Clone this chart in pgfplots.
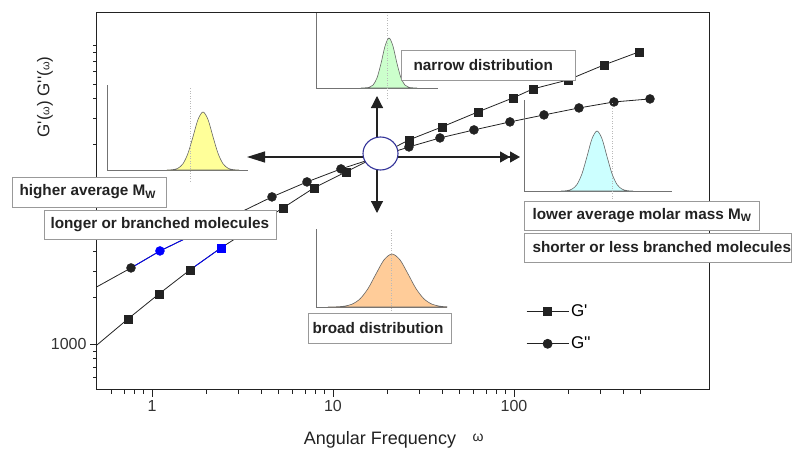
\documentclass[border=0pt]{standalone}
\usepackage{fontspec}
\setmainfont{Liberation Sans}
\usepackage{pgfplots}
\pgfplotsset{compat=1.18}
\usetikzlibrary{arrows.meta}

\definecolor{gyel}{HTML}{FFFF99}
\definecolor{ggrn}{HTML}{CCFFCC}
\definecolor{gcyn}{HTML}{CCFFFF}
\definecolor{gorg}{HTML}{FFCC99}
\definecolor{ringblue}{HTML}{333399}
\definecolor{ink}{HTML}{222222}
\newcommand\q{\textquotesingle}
\newcommand\boxfont{\fontsize{15.3}{18}\selectfont\bfseries}
\newcommand\smallw{{\fontsize{11}{11}\selectfont ω}}

\pgfplotsset{
  inset/.style={scale only axis, anchor=south west, axis lines*=left,
    axis line style={black!55, line width=0.8pt}, xtick=\empty, ytick=\empty,
    clip=false, xmin=0, ymin=0},
  gauss/.style={draw=black!60, line width=0.6pt, smooth, fill=#1},
  mid/.style={gray!55, dotted, line width=0.5pt},
}

\begin{document}
\begin{tikzpicture}
\path[use as bounding box] (-97pt,-61pt) rectangle (696pt,390pt);

\begin{axis}[at={(0pt,0pt)}, anchor=south west, scale only axis,
  width=612pt, height=377pt,
  xmode=log, ymode=log,
  xmin=0.497, xmax=1195, ymin=500, ymax=145500,
  axis line style={ink, line width=1pt},
  tick align=outside, tick pos=left,
  major tick length=7pt, minor tick length=4pt,
  every tick/.style={ink, line width=0.8pt},
  xtick={1,10,100}, xticklabels={1,10,100},
  minor xtick={0.6,0.7,0.8,0.9,2,3,4,5,6,7,8,9,20,30,40,50,60,70,80,90,200,300,400,500},
  ytick={1000,10000}, yticklabels={1000,{}},
  minor ytick={600,700,800,900,2000,3000,4000,5000,6000,7000,8000,9000,20000,30000,40000,50000,60000,70000,80000,90000},
  ticklabel style={font=\fontsize{16}{18}\selectfont, text=black!80},
  /pgf/number format/assume math mode=true,
  legend image code/.code={\draw[mark repeat=2,mark phase=2,#1] plot coordinates {(0pt,0pt) (21pt,0pt) (42pt,0pt)};},
  legend style={draw=none, fill=none, at={(axis description cs:0.701,0.232)}, anchor=north west,
    inner sep=0pt, font=\fontsize{17}{20}\selectfont, row sep=15pt},
  legend cell align=left,
]
% G' line and G'' line
\addplot[ink, line width=0.8pt, forget plot] coordinates {
(0.335,666) (0.737,1457) (1.093,2123) (1.622,3046) (2.405,4242) (3.568,5732)
(5.293,7743) (7.852,10462) (11.80,13312) (17.73,16930) (26.29,21544) (40.02,26200)
(63.25,32840) (98.74,40530) (127.3,46416) (198.8,53140) (314.3,66610) (490.3,81000)};
\addplot[ink, line width=0.8pt, forget plot] coordinates {
(0.335,1826) (0.766,3139) (1.107,4053) (1.773,5314) (2.874,6967) (4.603,9139)
(7.184,11450) (11.07,13925) (17.06,16430) (26.29,19390) (39.0,22200) (60.1,25040)
(95.0,28250) (146.5,31380) (228.6,34860) (356.8,38160) (564.1,39930)};
% blue segments
\addplot[blue, line width=0.8pt, forget plot] coordinates {(1.622,3046) (2.405,4242)};
\addplot[blue, line width=0.8pt, forget plot] coordinates {(0.766,3139) (1.107,4053) (1.773,5314)};
% marks
\addplot[only marks, mark=square*, mark size=4.2pt, ink, forget plot] coordinates {
(0.737,1457) (1.093,2123) (1.622,3046) (3.568,5732)
(5.293,7743) (7.852,10462) (11.80,13312) (17.73,16930) (26.29,21544) (40.02,26200)
(63.25,32840) (98.74,40530) (127.3,46416) (198.8,53140) (314.3,66610) (490.3,81000)};
\addplot[only marks, mark=*, mark size=4.5pt, ink, forget plot] coordinates {
(0.766,3139) (1.773,5314) (2.874,6967) (4.603,9139)
(7.184,11450) (11.07,13925) (17.06,16430) (26.29,19390) (39.0,22200) (60.1,25040)
(95.0,28250) (146.5,31380) (228.6,34860) (356.8,38160) (564.1,39930)};
\addplot[only marks, mark=square*, mark size=4.2pt, blue, forget plot] coordinates {(2.405,4242)};
\addplot[only marks, mark=*, mark size=4.5pt, blue, forget plot] coordinates {(1.107,4053)};
\addlegendimage{ink, line width=0.8pt, mark=square*, mark size=4.2pt}
\addlegendentry{G\q}
\addlegendimage{ink, line width=0.8pt, mark=*, mark size=4.5pt}
\addlegendentry{G\q\q}
\end{axis}

% yellow inset
\begin{axis}[inset, at={(10pt,220pt)}, width=141pt, height=85pt, xmax=141, ymax=85]
\addplot[gauss=gyel] coordinates {(60,0) (66,0.4) (71,1.8) (76,6.3) (81,16.7) (86,33.3) (91,50.5) (96,58)
 (101,50.5) (106,33.3) (111,16.7) (116,6.3) (121,1.8) (126,0.4) (132,0)} \closedcycle;
\addplot[mid] coordinates {(83,-11) (83,83)};
\end{axis}
% green inset
\begin{axis}[inset, at={(219pt,302pt)}, width=122pt, height=75pt, xmax=122, ymax=75]
\addplot[gauss=ggrn] coordinates {(45,0) (53,0.6) (57,2.9) (61,10.1) (65,24.5) (69,41.8) (73,50)
 (77,41.8) (81,24.5) (85,10.1) (89,2.9) (93,0.6) (101,0)} \closedcycle;
\addplot[mid] coordinates {(71,-10) (71,75)};
\end{axis}
% cyan inset
\begin{axis}[inset, at={(427pt,199pt)}, width=148pt, height=91pt, xmax=148, ymax=91]
\addplot[gauss=gcyn] coordinates {(37,0) (43,0.4) (48,1.9) (53,6.5) (58,17.3) (63,34.5) (68,52.3) (73,60)
 (78,52.3) (83,34.5) (88,17.3) (93,6.5) (98,1.9) (103,0.4) (109,0)} \closedcycle;
\addplot[mid] coordinates {(88,-10) (88,89)};
\end{axis}
% orange inset
\begin{axis}[inset, at={(219pt,83pt)}, width=131pt, height=78pt, xmax=131, ymax=78]
\addplot[gauss=gorg] coordinates {(12,0) (20,0.2) (28,0.8) (36,2.8) (44,8.1) (52,18.4) (60,33.1) (68,47.1) (76,53)
 (84,47.1) (92,33.1) (100,18.4) (108,8.1) (116,2.8) (124,0.8) (131,0.2)} \closedcycle;
\addplot[mid] coordinates {(75,-6) (75,78)};
\end{axis}

\begin{scope}[x=1pt, y=-1pt, shift={(-97pt,390pt)}]
% arrows
\draw[ink, line width=1.2pt, -{Triangle[length=18pt,width=11pt]}] (378,157) -- (247,157);
\draw[ink, line width=1.2pt, -{Triangle[length=10pt,width=11pt]Triangle[length=10pt,width=11pt]}] (378,157) -- (520,157);
\draw[ink, line width=1.2pt, -{Triangle[length=12pt,width=12pt]}] (377,154) -- (377,96);
\draw[ink, line width=1.2pt, -{Triangle[length=12pt,width=12pt]}] (377,154) -- (377,213);
\draw[ringblue, line width=1.1pt, fill=white] (380.5,153.5) ellipse [x radius=17.5, y radius=16.5];
% boxes
\tikzset{lbl/.style={draw=black!40, fill=white, line width=0.8pt}}
\draw[lbl] (12,177) rectangle (166,207);
\node[anchor=west, font=\boxfont, text=ink] at (16,192) {higher average M\textsubscript{W}};
\draw[lbl] (44,210) rectangle (276,239);
\node[anchor=west, font=\boxfont, text=ink] at (47,224.5) {longer or branched molecules};
\draw[lbl] (401,50) rectangle (575,80);
\node[anchor=west, font=\boxfont, text=ink] at (410,65) {narrow distribution};
\draw[lbl] (524,201) rectangle (759,230);
\node[anchor=west, font=\boxfont, text=ink] at (529,215.5) {lower average molar mass M\textsubscript{W}};
\draw[lbl] (524,233) rectangle (791,262);
\node[anchor=west, font=\boxfont, text=ink] at (529,247.5) {shorter or less branched molecules};
\draw[lbl] (308,313) rectangle (451,343);
\node[anchor=west, font=\boxfont, text=ink] at (309,328) {broad distribution};
% axis titles
\node[font=\fontsize{18}{20}\selectfont, text=ink] at (380,440) {Angular Frequency};
\node[text=ink, font=\fontsize{14}{14}\selectfont] at (478,438) {ω};
\node[rotate=90, font=\fontsize{17}{20}\selectfont, text=ink] at (45,97) {G\q(\smallw) G\q\q(\smallw)};
\end{scope}
\end{tikzpicture}
\end{document}
